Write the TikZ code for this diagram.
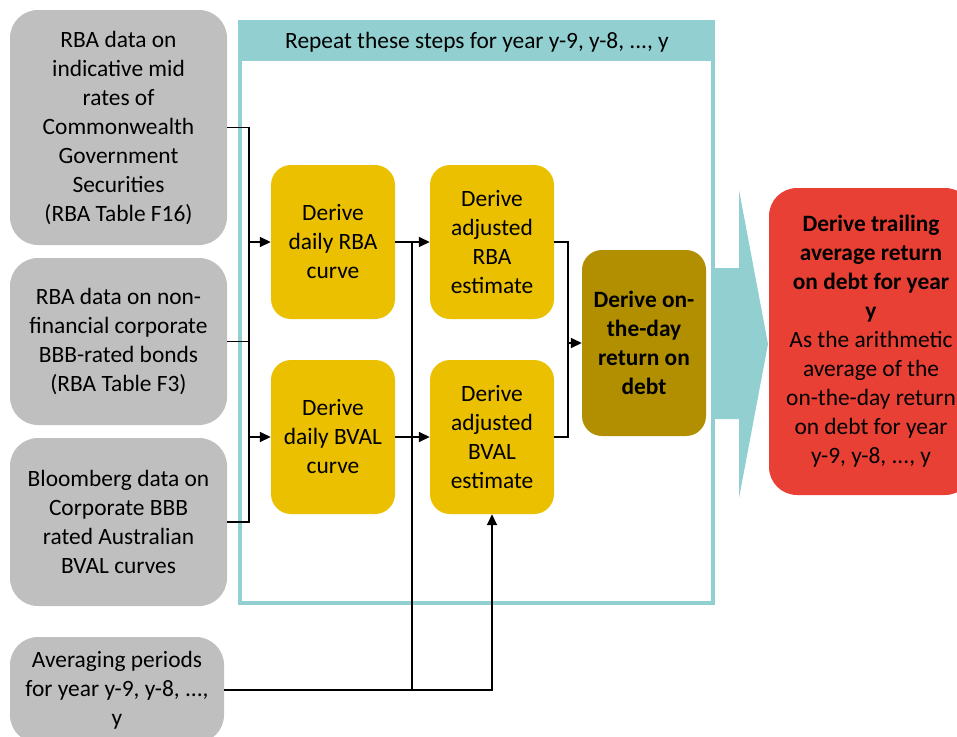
\documentclass[tikz,border=0pt]{standalone}
\usepackage{fontspec}
\setmainfont{Carlito}
\usetikzlibrary{arrows.meta,positioning}
\definecolor{srcgray}{RGB}{191,191,191}
\definecolor{stepgold}{RGB}{234,192,0}
\definecolor{dayolive}{RGB}{178,143,0}
\definecolor{frameteal}{RGB}{146,207,208}
\definecolor{outred}{RGB}{233,64,53}

\begin{document}
\begin{tikzpicture}[x=1pt,y=-1pt,
    txt/.style={align=center,inner sep=0pt,font=\fontsize{23.4}{29}\selectfont},
    src/.style={txt,fill=srcgray,rounded corners=28pt},
    stepbox/.style={txt,fill=stepgold,rounded corners=20pt,minimum width=124pt,minimum height=154pt},
    link/.style={line width=1.6pt},
    arr/.style={link,-{Triangle[length=11pt,width=10pt]}}]
    \useasboundingbox (0,0) rectangle (957,736);
    \fill[frameteal] (240,22) rectangle (713,61);
    \draw[frameteal,line width=4pt] (240,22) rectangle (713,603);
    \node[txt] (hdr) at (477,42){Repeat these steps for year y-9, y-8, ..., y};
    \node[src,minimum width=217pt,minimum height=235pt] (g1) at (118.5,127.5){RBA data on\\indicative mid\\rates of\\Commonwealth\\Government\\Securities\\(RBA Table F16)};
    \node[src,minimum width=217pt,minimum height=167pt] (g2) at (118.5,341.5){RBA data on non-\\financial corporate\\BBB-rated bonds\\(RBA Table F3)};
    \node[src,minimum width=217pt,minimum height=168pt] (g3) at (118.5,522){Bloomberg data on\\Corporate BBB\\rated Australian\\BVAL curves};
    \node[src,minimum width=214pt,minimum height=106pt] (g4) at (117,690){Averaging periods\\for year y-9, y-8, ...,\\y};
    \node[stepbox] (y1) at (333,242){Derive\\daily RBA\\curve};
    \node[stepbox] (y2) at (333,437){Derive\\daily BVAL\\curve};
    \node[stepbox] (y3) at (492,242){Derive\\adjusted\\RBA\\estimate};
    \node[stepbox] (y4) at (492,437){Derive\\adjusted\\BVAL\\estimate};
    \node[stepbox,fill=dayolive,minimum height=186pt,font=\fontsize{23.4}{29}\selectfont\bfseries] (ot) at (644,343){Derive on-\\the-day\\return on\\debt};
    \fill[frameteal] (715,268) -- (739,268) -- (739,190) -- (768,344) -- (739,498) -- (739,419) -- (715,419) -- cycle;
    \node[txt,fill=outred,rounded corners=28pt,minimum width=204pt,minimum height=307pt] (res) at (871,341.5){\textbf{Derive trailing}\\\textbf{average return}\\\textbf{on debt for year}\\\textbf{y}\\As the arithmetic\\average of the\\on-the-day return\\on debt for year\\y-9, y-8, ..., y};
    \coordinate (busL) at (249,0);
    \coordinate (busA) at (412,0);
    \coordinate (busR) at (568,0);
    \draw[link] (g1.east) -- (g1.east -| busL) -- (g3.east -| busL) -- (g3.east);
    \draw[link] (g2.east) -- (g2.east -| busL);
    \draw[arr] (y1.west -| busL) -- (y1.west);
    \draw[arr] (y2.west -| busL) -- (y2.west);
    \draw[arr] (y1.east) -- (y3.west);
    \draw[arr] (y2.east) -- (y4.west);
    \draw[arr] (g4.east) -| (y4.south);
    \draw[link] (g4.east -| busA) -- (y3.west -| busA);
    \draw[link] (y3.east) -- (y3.east -| busR) -- (y4.east -| busR) -- (y4.east);
    \draw[arr] (ot.west -| busR) -- (ot.west);
  \end{tikzpicture}
\end{document}
